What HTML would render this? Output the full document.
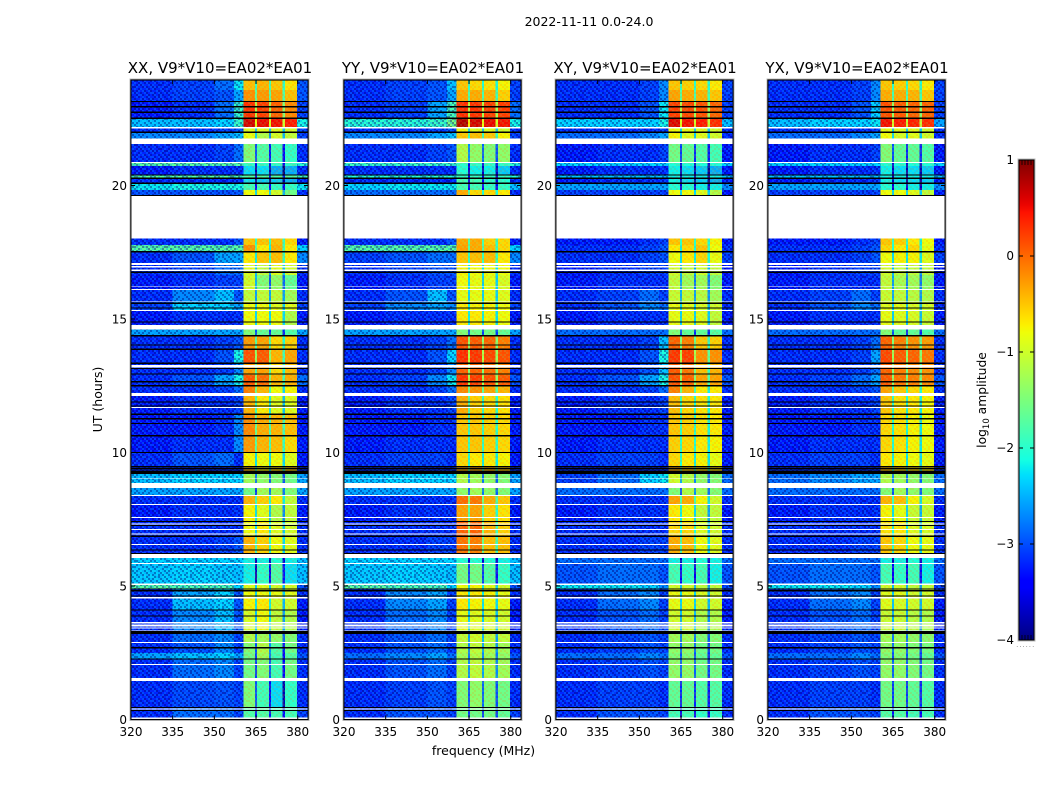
<!DOCTYPE html>
<html lang="en">
<head>
<meta charset="utf-8">
<title>2022-11-11 0.0-24.0 dynamic spectra</title>
<style>
html,body{margin:0;padding:0;background:#fff;}
svg{display:block;}
text{font-family:"DejaVu Sans","Liberation Sans",sans-serif;fill:#000;}
</style>
</head>
<body>
<svg id="figure" xmlns="http://www.w3.org/2000/svg" width="1050" height="800" viewBox="0 0 1050 800">
<text x="589" y="26" font-size="12.5" text-anchor="middle">2022-11-11 0.0-24.0</text>
<text x="483.5" y="755" font-size="12.5" text-anchor="middle">frequency (MHz)</text>
<text x="0" y="0" font-size="12.5" text-anchor="middle" transform="translate(102 399.5) rotate(-90)">UT (hours)</text>
<text x="0" y="0" font-size="12.3" text-anchor="middle" transform="translate(986 400) rotate(-90)">log<tspan font-size="8.5" dy="3">10</tspan><tspan dy="-3"> amplitude</tspan></text>
<g id="panels"></g>
<g id="colorbar"></g>
</svg>
<script>
/* ---------- chart data ---------- */
const polarizations = ["XX", "YY", "XY", "YX"];
const baselineLabel = "V9*V10=EA02*EA01";
const xTickLabels = [320, 335, 350, 365, 380];
const yTickLabels = [0, 5, 10, 15, 20];
const colorbarTicks = [1, 0, -1, -2, -3, -4];

/* frequency column edges (MHz): four off-band columns, four bands split by notches, one out-of-band */
const freqEdges = [320, 335, 350, 357, 360.4, 364.6, 365.4, 369.6, 370.4, 374.6, 375.4, 379.8, 383.7];
/* time row edges (hours, descending) */
const timeEdges = [23.95,23.58,23.13,22.53,22.19,21.97,21.55,20.86,20.73,20.39,20.28,20.06,19.83,18.03,17.78,17.53,17.10,16.65,16.09,15.64,15.30,14.78,14.36,13.84,13.35,12.90,12.49,12.12,11.44,10.62,10.02,9.46,9.19,8.67,8.37,8.07,7.40,6.84,6.20,5.82,5.04,4.89,4.55,4.10,3.35,2.90,2.49,2.27,1.44,0.43,0];

/* log10 amplitude: [320-335, 335-350, 350-357, 357-360, band1, band2, band3, band4, 380-384] */
const amplitudeXX = [
[-3.2,-3.1,-2.85,-2.2,-.45,-.4,-.5,-.65,-3],
[-3.2,-3.1,-3,-2.55,-.2,-.25,-.3,-.45,-3],
[-3.3,-3.2,-2.85,-1.9,.3,.25,.05,-.15,-3.1],
[-2.4,-2.4,-2.3,-1.9,.65,.55,.5,.45,-2.1],
[-3.2,-3.2,-3.1,-3,-.9,-.9,-.9,-1,-3.1],
[-2.7,-2.7,-2.55,-2.4,-.85,-1.2,-1,-1.1,-3.1],
[-3.2,-3.2,-3.1,-2.85,-1.5,-1.8,-1.9,-2,-3.2],
[-1.7,-1.7,-1.7,-1.7,-2,-2,-2,-2,-2],
[-3.3,-3.2,-3.2,-3.2,-2.3,-2.3,-2.55,-2.55,-3.2],
[-1.7,-1.7,-1.7,-1.8,-1.8,-1.8,-1.8,-1.8,-1.8],
[-3.2,-3.2,-3.2,-3.2,-2.3,-2.4,-2.4,-2.55,-3.2],
[-2.2,-2.1,-2.1,-2.1,-1.9,-1.9,-2,-2,-2.2],
[-3,-3,-3,-3,-.8,-.8,-1,-1.6,-3.2],
[-3.2,-3.2,-3.2,-3,-.5,-.5,-.45,-.6,-3.3],
[-1.7,-1.7,-1.7,-1.7,-.2,-.7,-.4,-.7,-2.3],
[-3.2,-3,-2.55,-2.55,-.7,-.5,-.45,-.7,-2.7],
[-3.2,-3.1,-2.85,-2.85,-.9,-1.1,-.9,-1,-3.2],
[-3.3,-3.2,-3.1,-3.1,-1,-1.5,-1.4,-1.7,-3.3],
[-3.2,-2.7,-2.4,-3,-1.1,-1.1,-1.1,-1.3,-3.2],
[-3.1,-2.3,-2.3,-2.55,-.8,-.8,-.9,-.9,-3.1],
[-3.3,-3.2,-3.2,-3.2,-.8,-.8,-.8,-1.2,-3.3],
[-2.55,-2.55,-2.55,-2.55,-1.5,-1.7,-1.7,-1.8,-2.55],
[-3.2,-3.2,-3.1,-3,-.25,-.3,-.6,-.55,-3.2],
[-3.2,-3.2,-3,-2.1,.15,.1,-.4,-.3,-3.2],
[-3.2,-3.2,-3.1,-2.7,-.3,-.3,-.6,-.45,-3.2],
[-3.2,-3,-2.55,-2.1,.1,0,-.4,-.35,-2.85],
[-3.2,-3.2,-3.1,-2.85,-.1,-.4,-.8,-.75,-3.2],
[-3.3,-3.2,-3.2,-3.1,-.4,-.7,-.9,-.9,-3.3],
[-3.3,-3.3,-3.2,-2.7,-.15,-.35,-.4,-.45,-3.3],
[-3.3,-3.2,-3.2,-2.7,-.25,-.4,-.45,-.6,-3.3],
[-3.2,-3,-2.85,-3.2,-.75,-.8,-.8,-.9,-3.3],
[-3.2,-3.2,-3.2,-3.2,-.4,-.75,-.6,-.5,-3.2],
[-2.4,-2.3,-2.3,-2.3,-1.3,-1.4,-1.5,-1.6,-2.55],
[-2.55,-2.55,-2.55,-2.55,-1.6,-1.3,-1.3,-1.5,-2.55],
[-3.2,-3.2,-3.2,-3.2,-.4,-.55,-.7,-1.1,-3.2],
[-3.3,-3.2,-3.2,-3.2,-.75,-.9,-1.2,-1.1,-3.3],
[-3.2,-3.2,-3.2,-3.2,-.8,-.7,-.9,-1,-3.2],
[-3.2,-3.2,-3.1,-3,-.4,-.55,-.8,-.9,-3.2],
[-2.3,-2.3,-2.3,-2.3,-2.2,-2.2,-2.1,-2.2,-2.4],
[-2.35,-2.3,-2.35,-2.4,-2.2,-2,-1.8,-2.3,-2.4],
[-1.7,-1.8,-1.8,-2.3,-.9,-.9,-1,-1,-3],
[-3.2,-2.55,-2.3,-3,-.8,-.8,-.85,-.9,-3.2],
[-3.2,-2.4,-2.3,-3,-.75,-.7,-1,-1,-3.3],
[-3.2,-2.7,-2.4,-3,-.95,-.8,-1.1,-1.2,-3.3],
[-3.2,-2.85,-2.7,-3.1,-1.2,-1.3,-1.4,-1.5,-3.2],
[-3.2,-3,-2.7,-3.1,-1.5,-1.2,-1.8,-1.6,-3.2],
[-2.55,-2.4,-2.3,-2.55,-1.6,-1.3,-1.9,-1.8,-3],
[-3.2,-2.85,-2.7,-3.1,-1.6,-1.5,-1.9,-1.6,-3.2],
[-3.2,-3.05,-3,-3.1,-1.5,-1.9,-2.3,-2,-3.2],
[-3.2,-2.85,-2.85,-3.1,-1.8,-1.8,-1.9,-1.9,-3.1]
];
const amplitudeYY = [
[-3.2,-3.1,-3,-2.4,-.5,-.6,-.65,-.75,-3.1],
[-3.2,-3.1,-3,-2.55,-.35,-.35,-.4,-.55,-3.1],
[-3.2,-3.1,-2.55,-1.8,.35,.3,.25,.25,-2.85],
[-2,-2,-1.9,-1.5,.8,.65,.55,.5,-2.1],
[-3.2,-3.2,-3.1,-3,-.8,-.9,-.9,-1,-3.2],
[-2.7,-2.7,-2.55,-2.4,-.5,-.45,-.5,-.75,-3.1],
[-3.2,-3.2,-3.1,-3,-1.2,-1.4,-1.5,-1.4,-3.2],
[-1.9,-1.9,-1.9,-1.9,-2,-2,-2,-2,-2],
[-3.2,-3.2,-3.2,-3.2,-2.1,-2.2,-2.2,-2.4,-3.2],
[-2,-2,-2,-2,-2,-2,-2,-2,-2],
[-3.2,-3.2,-3.2,-3.2,-1.9,-1.9,-2.1,-2.1,-3.2],
[-2.3,-2.2,-2.2,-2.2,-1.9,-1.9,-2,-2,-2.4],
[-2.85,-2.85,-2.85,-2.85,-.35,-.6,-.6,-.7,-3.2],
[-3.2,-3.2,-3.2,-3,-.35,-.35,-.55,-.6,-3.3],
[-1.7,-1.7,-1.7,-1.7,-.3,-.35,-.45,-.6,-2.3],
[-3.1,-3,-2.85,-2.85,-.5,-.45,-.45,-.7,-2.7],
[-3.2,-3.1,-3,-3,-.75,-.8,-.8,-.8,-3.2],
[-3.3,-3.2,-3.1,-3.1,-.8,-.85,-.85,-.95,-3.3],
[-3.2,-3,-2.4,-3,-.85,-.85,-.85,-.9,-3.2],
[-3.1,-2.7,-2.55,-2.7,-.7,-.75,-.75,-.8,-3.1],
[-3.3,-3.2,-3.2,-3.2,-.7,-.7,-.75,-.8,-3.3],
[-2.55,-2.55,-2.55,-2.55,-1.5,-1.6,-1.6,-1.7,-2.55],
[-3.2,-3.2,-3.1,-2.85,.15,.1,.05,-.1,-3.2],
[-3.2,-3.2,-3,-2.3,.35,.3,.2,.15,-3.2],
[-3.2,-3.2,-3.1,-2.7,.05,.05,0,-.1,-3.2],
[-3.2,-3.1,-2.7,-2.2,.3,.25,.15,.1,-3],
[-3.2,-3.2,-3.1,-2.85,-.15,-.2,-.3,-.4,-3.2],
[-3.3,-3.2,-3.2,-3.1,-.35,-.55,-.6,-.65,-3.3],
[-3.3,-3.3,-3.2,-3.2,-.5,-.5,-.55,-.6,-3.3],
[-3.3,-3.2,-3.2,-3.2,-.5,-.5,-.55,-.6,-3.3],
[-3.2,-3.1,-3.1,-3.2,-.6,-.7,-.7,-.75,-3.3],
[-3.2,-3.2,-3.2,-3.2,-.35,-.3,-.4,-.5,-3.2],
[-2.4,-2.3,-2.3,-2.3,-1.2,-1.3,-1.4,-1.5,-2.55],
[-2.55,-2.55,-2.55,-2.55,-1.4,-1.3,-1.4,-1.5,-2.55],
[-3.2,-3.2,-3.2,-3.2,0,-.05,-.35,-.5,-3.2],
[-3.3,-3.2,-3.2,-3.2,-.3,-.3,-.55,-.65,-3.3],
[-3.2,-3.2,-3.2,-3.2,.05,.05,-.4,-.55,-3.2],
[-3.2,-3.2,-3.1,-3.1,-.05,-.1,-.45,-.45,-3.2],
[-2.3,-2.3,-2.3,-2.3,-2.1,-2.1,-2.1,-2.2,-2.4],
[-2.35,-2.3,-2.35,-2.4,-1.6,-1.6,-1.8,-2,-2.4],
[-1.7,-1.8,-1.8,-2.3,-.8,-.75,-.9,-1,-3],
[-3.2,-2.7,-2.55,-3.1,-.7,-.7,-.75,-.85,-3.2],
[-3.2,-2.7,-2.55,-3.1,-.7,-.75,-.8,-.85,-3.3],
[-3.2,-2.85,-2.7,-3.1,-.85,-.9,-.95,-1,-3.3],
[-3.2,-3,-2.85,-3.1,-1.1,-1,-1.1,-1.1,-3.2],
[-3.2,-3,-2.85,-3.1,-1.2,-1.1,-1.2,-1.3,-3.2],
[-2.85,-2.7,-2.55,-2.85,-1.3,-1.2,-1.3,-1.4,-3],
[-3.2,-3,-2.85,-3.1,-1.2,-1.1,-1.2,-1.3,-3.2],
[-3.2,-3.1,-3,-3.1,-1.5,-1.4,-1.5,-1.6,-3.2],
[-3.2,-3,-3,-3.1,-1.6,-1.6,-1.6,-1.7,-3.1]
];
const amplitudeXY = [
[-3.2,-3.2,-3.1,-2.7,-.5,-.55,-.6,-.7,-3.1],
[-3.2,-3.2,-3.1,-2.7,-.3,-.35,-.4,-.5,-3.1],
[-3.2,-3.2,-3,-2.2,.25,.2,.15,.05,-3.1],
[-2.3,-2.3,-2.3,-2.1,.6,.5,.45,.35,-2.4],
[-3.2,-3.2,-3.2,-3.1,-.8,-.85,-.9,-1,-3.2],
[-2.85,-2.85,-2.7,-2.55,-.75,-.9,-.9,-1,-3.2],
[-3.3,-3.2,-3.2,-3.1,-1.6,-1.7,-1.8,-1.9,-3.3],
[-2.3,-2.3,-2.3,-2.3,-2.1,-2.1,-2.1,-2.1,-2.3],
[-3.3,-3.2,-3.2,-3.2,-2.2,-2.3,-2.4,-2.55,-3.3],
[-2.4,-2.4,-2.4,-2.4,-2.2,-2.2,-2.2,-2.2,-2.4],
[-3.3,-3.2,-3.2,-3.2,-2.2,-2.3,-2.4,-2.55,-3.3],
[-2.55,-2.55,-2.55,-2.55,-2.1,-2.1,-2.2,-2.2,-2.7],
[-3.1,-3.1,-3.1,-3.1,-.8,-.8,-.9,-1.2,-3.3],
[-3.3,-3.3,-3.2,-3.1,-.5,-.5,-.6,-.75,-3.3],
[-3.2,-3.2,-3.1,-3,-.7,-.6,-.5,-.8,-3.2],
[-3.2,-3.2,-3.1,-3,-.8,-.7,-.6,-.85,-3.1],
[-3.3,-3.2,-3.1,-3.1,-1,-1.1,-1,-1.1,-3.3],
[-3.3,-3.2,-3.2,-3.2,-1.1,-1.3,-1.3,-1.5,-3.3],
[-3.2,-3.1,-2.85,-3.1,-1.05,-1.1,-1.15,-1.3,-3.2],
[-3.2,-3,-2.7,-2.85,-.85,-.9,-.95,-1,-3.2],
[-3.3,-3.2,-3.2,-3.2,-.85,-.85,-.9,-1.1,-3.3],
[-2.85,-2.85,-2.85,-2.85,-1.5,-1.7,-1.7,-1.8,-2.85],
[-3.2,-3.2,-3.1,-2.4,.05,-.1,-.5,-.55,-3.2],
[-3.2,-3.2,-3,-2.1,.3,.25,-.2,-.2,-3.2],
[-3.2,-3.2,-3,-2.4,.1,-.05,-.45,-.4,-3.2],
[-3.2,-3,-2.55,-2.1,.15,.05,-.3,-.3,-3],
[-3.2,-3.2,-3.1,-2.85,-.1,-.4,-.7,-.7,-3.2],
[-3.3,-3.2,-3.2,-3.1,-.45,-.6,-.65,-.7,-3.3],
[-3.3,-3.3,-3.2,-3.2,-.5,-.55,-.65,-.7,-3.3],
[-3.3,-3.2,-3.2,-3.2,-.55,-.6,-.7,-.75,-3.3],
[-3.2,-3.1,-3.1,-3.2,-.6,-.7,-.75,-.85,-3.3],
[-3.2,-3.2,-3.2,-3.2,-.35,-.5,-.6,-.65,-3.2],
[-3.1,-2.85,-2.3,-2.2,-1,-1.2,-1.4,-1.5,-2.85],
[-2.85,-2.85,-2.85,-2.85,-1.5,-1.2,-1.3,-1.5,-2.85],
[-3.2,-3.2,-3.2,-3.2,-.3,-.35,-.75,-1,-3.2],
[-3.3,-3.2,-3.2,-3.2,-.7,-.8,-1.1,-1.1,-3.3],
[-3.2,-3.2,-3.2,-3.2,-.6,-.6,-.9,-1,-3.2],
[-3.2,-3.2,-3.1,-3.1,-.35,-.45,-.8,-.9,-3.2],
[-2.85,-2.85,-2.85,-2.85,-2.2,-2.2,-2.1,-2.2,-2.85],
[-3,-2.85,-2.85,-3,-1.9,-2,-1.9,-2.2,-3],
[-2.2,-2.2,-2.3,-2.7,-1,-1,-1.1,-1.1,-3.1],
[-3.2,-2.85,-2.7,-3.1,-.85,-.85,-.95,-1,-3.2],
[-3.2,-2.85,-2.7,-3.1,-.85,-.85,-1,-1,-3.3],
[-3.2,-3,-2.85,-3.1,-1,-1,-1.2,-1.2,-3.3],
[-3.2,-3.1,-3,-3.1,-1.3,-1.3,-1.5,-1.5,-3.2],
[-3.2,-3.1,-3,-3.1,-1.4,-1.4,-1.6,-1.6,-3.2],
[-2.85,-2.85,-2.7,-2.85,-1.5,-1.5,-1.7,-1.7,-3],
[-3.2,-3.1,-3,-3.1,-1.4,-1.4,-1.6,-1.6,-3.2],
[-3.2,-3.1,-3.1,-3.2,-1.7,-1.7,-1.8,-1.8,-3.2],
[-3.2,-3,-3,-3.1,-1.9,-1.9,-2,-2,-3.2]
];
const amplitudeYX = [
[-3.2,-3.2,-3.1,-2.7,-.5,-.55,-.6,-.7,-3.1],
[-3.2,-3.2,-3.1,-2.7,-.35,-.35,-.4,-.5,-3.1],
[-3.2,-3.2,-3,-2.3,.15,.1,.05,.05,-3.1],
[-2.4,-2.3,-2.3,-2.2,.5,.45,.4,.35,-2.55],
[-3.2,-3.2,-3.2,-3.1,-.85,-.9,-.9,-1,-3.2],
[-2.85,-2.85,-2.7,-2.55,-.8,-.95,-.9,-1,-3.2],
[-3.3,-3.2,-3.2,-3.1,-1.5,-1.7,-1.7,-1.8,-3.3],
[-2.3,-2.3,-2.3,-2.3,-2.1,-2.1,-2.1,-2.1,-2.3],
[-3.3,-3.2,-3.2,-3.2,-2.2,-2.3,-2.3,-2.4,-3.3],
[-2.4,-2.4,-2.4,-2.4,-2.2,-2.2,-2.2,-2.2,-2.4],
[-3.3,-3.2,-3.2,-3.2,-2.2,-2.3,-2.3,-2.4,-3.3],
[-2.55,-2.55,-2.55,-2.55,-2.1,-2.1,-2.2,-2.2,-2.7],
[-3.1,-3.1,-3.1,-3.1,-.8,-.8,-.9,-1.1,-3.3],
[-3.3,-3.3,-3.2,-3.1,-.5,-.55,-.7,-.8,-3.3],
[-3.2,-3.2,-3.1,-3,-.6,-.7,-.6,-.85,-3.2],
[-3.2,-3.2,-3.1,-3,-.8,-.75,-.75,-.9,-3.1],
[-3.3,-3.2,-3.1,-3.1,-1,-1.1,-1.1,-1.1,-3.3],
[-3.3,-3.2,-3.2,-3.2,-1.1,-1.25,-1.3,-1.4,-3.3],
[-3.2,-3.1,-2.85,-3.1,-1.05,-1.1,-1.15,-1.2,-3.2],
[-3.2,-3,-2.7,-2.85,-.9,-.9,-.95,-1,-3.2],
[-3.3,-3.2,-3.2,-3.2,-.85,-.9,-.95,-1.05,-3.3],
[-2.85,-2.85,-2.85,-2.85,-1.5,-1.7,-1.7,-1.8,-2.85],
[-3.2,-3.2,-3.1,-2.85,.05,-.1,-.2,-.25,-3.2],
[-3.2,-3.2,-3.1,-2.55,.2,.1,.05,-.05,-3.2],
[-3.2,-3.2,-3.1,-2.85,.05,-.1,-.15,-.2,-3.2],
[-3.2,-3.1,-2.85,-2.55,.1,-.05,-.1,-.15,-3],
[-3.2,-3.2,-3.1,-3,-.3,-.5,-.6,-.7,-3.2],
[-3.3,-3.2,-3.2,-3.1,-.5,-.65,-.7,-.75,-3.3],
[-3.3,-3.3,-3.2,-3.2,-.6,-.65,-.75,-.8,-3.3],
[-3.3,-3.2,-3.2,-3.2,-.6,-.65,-.75,-.8,-3.3],
[-3.2,-3.1,-3.1,-3.2,-.7,-.75,-.8,-.85,-3.3],
[-3.2,-3.2,-3.2,-3.2,-.45,-.55,-.65,-.7,-3.2],
[-2.85,-2.7,-2.55,-2.55,-1.2,-1.3,-1.4,-1.5,-2.85],
[-2.85,-2.85,-2.85,-2.85,-1.5,-1.3,-1.4,-1.5,-2.85],
[-3.2,-3.2,-3.2,-3.2,-.4,-.45,-.75,-.95,-3.2],
[-3.3,-3.2,-3.2,-3.2,-.75,-.85,-1.05,-1.05,-3.3],
[-3.2,-3.2,-3.2,-3.2,-.65,-.7,-.9,-.95,-3.2],
[-3.2,-3.2,-3.1,-3.1,-.5,-.6,-.8,-.85,-3.2],
[-2.85,-2.85,-2.85,-2.85,-2.2,-2.2,-2.1,-2.2,-2.85],
[-3,-2.85,-2.85,-3,-1.9,-2,-1.9,-2.2,-3],
[-2.2,-2.2,-2.3,-2.7,-1,-1,-1.1,-1.1,-3.1],
[-3.2,-2.85,-2.7,-3.1,-.9,-.9,-1,-1,-3.2],
[-3.2,-2.85,-2.7,-3.1,-.9,-.95,-1,-1,-3.3],
[-3.2,-3,-2.85,-3.1,-1.05,-1.05,-1.15,-1.2,-3.3],
[-3.2,-3.1,-3,-3.1,-1.3,-1.3,-1.4,-1.45,-3.2],
[-3.2,-3.1,-3,-3.1,-1.4,-1.4,-1.5,-1.55,-3.2],
[-2.85,-2.85,-2.7,-2.85,-1.5,-1.5,-1.6,-1.7,-3],
[-3.2,-3.1,-3,-3.1,-1.4,-1.4,-1.5,-1.6,-3.2],
[-3.2,-3.1,-3.1,-3.2,-1.6,-1.6,-1.7,-1.8,-3.2],
[-3.2,-3,-3,-3.1,-1.8,-1.8,-1.9,-1.9,-3.2]
];
const panelAmplitudes = [amplitudeXX, amplitudeYY, amplitudeXY, amplitudeYX];

/* integrations with zero amplitude, drawn black (hours) */
const zeroHours = [23.14,22.95,22.74,22.52,21.99,20.39,20.27,20.08,19.63,17.52,16.75,15.59,15.41,14.89,14.37,14.03,13.87,13.34,13.15,12.94,12.65,12.5,11.89,11.74,11.43,11.26,11.09,10.63,10,9.47,9.41,9.34,9.28,9.22,7.41,7.27,6.86,6.35,6.22,4.89,4.82,4.63,4.1,3.88,3.29,3.23,2.69,2.27,.45,.34];
/* flagged time ranges, drawn white (start hour, end hour) */
const flaggedStart = [22.19,21.76,20.88,19.61,17.1,16.99,16.86,16.22,16.12,15.66,15.33,14.78,14.61,13.28,12.23,11.7,9.03,8.85,8.41,8.08,7.58,7.34,7.13,6.96,6.57,6.2,5.86,5.1,4.58,3.65,3.59,3.53,3.45,3.36,2.9,2.08,1.55,.41,.07];
const flaggedEnd = [22.13,21.55,20.84,18.02,17.02,16.92,16.8,16.19,16.09,15.63,15.29,14.63,14.59,13.18,12.12,11.67,9,8.67,8.37,8.04,7.55,7.3,7.1,6.92,6.54,6.04,5.82,5.04,4.54,3.62,3.55,3.49,3.41,3.33,2.86,2.04,1.45,.37,.02];

/* repeating speckle tile: -1 darker, 0 none, +1 lighter */
const speckleTile = [
[1,0,-1,0,1,-1,0,1,0,-1,1,0,0,-1,1,-1],
[-1,1,0,-1,0,0,1,-1,1,0,-1,1,-1,0,0,1],
[0,-1,1,1,-1,1,0,0,-1,1,0,-1,1,1,-1,0],
[1,0,-1,0,0,-1,1,-1,0,0,1,0,-1,0,1,-1],
[-1,1,0,-1,1,0,-1,1,1,-1,0,1,0,-1,0,1],
[0,-1,1,0,-1,1,0,0,-1,0,1,-1,1,0,-1,0],
[1,0,0,-1,1,-1,1,-1,0,1,-1,0,0,1,0,-1],
[-1,1,-1,1,0,0,-1,1,0,-1,1,1,-1,0,1,0],
[0,0,1,-1,-1,1,0,-1,1,0,0,-1,1,-1,0,1],
[1,-1,0,1,0,-1,1,0,-1,1,-1,0,0,1,-1,0],
[-1,0,1,0,-1,1,-1,1,0,0,1,-1,1,0,0,-1],
[0,1,-1,-1,1,0,0,-1,1,-1,0,1,-1,1,-1,1],
[1,-1,0,1,0,-1,1,0,0,1,-1,0,1,-1,0,0],
[0,1,-1,0,-1,1,0,1,-1,0,1,-1,0,0,1,-1],
[-1,0,1,-1,1,0,-1,0,1,-1,0,1,1,-1,0,1],
[1,-1,0,0,-1,1,1,-1,0,1,-1,0,-1,1,0,-1]
];

/* ---------- axes and colour ---------- */
const svgNS = "http://www.w3.org/2000/svg";
const xMin = 320, xMax = 383.7, yMin = 0, yMax = 23.95;
const plotTop = 80, plotBottom = 719.5, plotWidth = 177;
const plotLefts = [131, 344, 556, 768];
const notchDrop = 1.5;

function xScale(mhz, left) { return left + (mhz - xMin) / (xMax - xMin) * plotWidth; }
function yScale(hour) { return plotBottom - (hour - yMin) / (yMax - yMin) * (plotBottom - plotTop); }
function colorbarY(v) { return 160 + (1 - v) / 5 * 480; }

function interp(points, f) {
  for (let i = 1; i < points.length; i++) {
    if (f <= points[i][0]) {
      const a = points[i - 1], b = points[i];
      return a[1] + (b[1] - a[1]) * (f - a[0]) / (b[0] - a[0]);
    }
  }
  return points[points.length - 1][1];
}
const jetRed = [[0,0],[.35,0],[.66,1],[.89,1],[1,.5]];
const jetGreen = [[0,0],[.125,0],[.375,1],[.64,1],[.91,0],[1,0]];
const jetBlue = [[0,.5],[.11,1],[.34,1],[.65,0],[1,0]];
function jet(v) {
  const f = Math.max(0, Math.min(1, (v + 4) / 5));
  const c = p => Math.round(255 * interp(p, f));
  return "rgb(" + c(jetRed) + "," + c(jetGreen) + "," + c(jetBlue) + ")";
}
function make(tag, attrs, parent) {
  const el = document.createElementNS(svgNS, tag);
  for (const k in attrs) el.setAttribute(k, attrs[k]);
  parent.appendChild(el);
  return el;
}

/* column index in freqEdges -> value column, or notch derived from the band to its left */
const columnSource = [0, 1, 2, 3, 4, -4, 5, -5, 6, -6, 7, 8];

const panelsGroup = document.getElementById("panels");
const defs = make("defs", {}, panelsGroup);
function speckleDots(pattern, lightFill, darkFill) {
  speckleTile.forEach((row, r) => row.forEach((s, c) => {
    if (s === 0) return;
    const dot = make("rect", { x: c * 2, y: r * 2, width: 2, height: 2, fill: s > 0 ? lightFill : darkFill }, pattern);
    
    
  }));
}
const offBandPattern = make("pattern", { id: "speckle", width: 32, height: 32, patternUnits: "userSpaceOnUse" }, defs);
speckleDots(offBandPattern, "rgba(0,140,255,.34)", "rgba(0,0,120,.42)");
const bandPattern = make("pattern", { id: "band-speckle", width: 32, height: 32, patternUnits: "userSpaceOnUse" }, defs);
speckleDots(bandPattern, "rgba(255,120,0,.16)", "rgba(120,255,120,.16)");

polarizations.forEach((pol, p) => {
  const left = plotLefts[p];
  const right = left + plotWidth;
  const values = panelAmplitudes[p];
  const g = make("g", {}, panelsGroup);
  
  
  const cells = make("g", { "shape-rendering": "crispEdges" }, g);
  
  

  values.forEach((row, r) => {
    const y0 = yScale(timeEdges[r]);
    const y1 = yScale(timeEdges[r + 1]);
    columnSource.forEach((src, c) => {
      const v = src >= 0 ? row[src] : row[-src] - notchDrop;
      const x0 = xScale(freqEdges[c], left);
      const x1 = xScale(freqEdges[c + 1], left);
      const cell = make("rect", { x: x0.toFixed(2), y: y0.toFixed(2),
        width: (x1 - x0 + .4).toFixed(2), height: (y1 - y0 + .4).toFixed(2), fill: jet(v) }, cells);
      
      
    });
  });

  [[xMin, freqEdges[4], "speckle"], [freqEdges[4], freqEdges[11], "band-speckle"], [freqEdges[11], xMax, "speckle"]].forEach(range => {
    const x0 = xScale(range[0], left), x1 = xScale(range[1], left);
    const overlay = make("rect", { x: x0, y: plotTop, width: x1 - x0, height: plotBottom - plotTop,
      fill: "url(#" + range[2] + ")" }, cells);
    
    
  });

  zeroHours.forEach(h => {
    const line = make("rect", { x: left, y: (yScale(h) - .6).toFixed(2), width: plotWidth, height: 1.2, fill: "#000" }, cells);
    
    
  });
  flaggedStart.forEach((h, i) => {
    const y0 = yScale(h), y1 = yScale(flaggedEnd[i]);
    const band = make("rect", { x: left, y: y0.toFixed(2), width: plotWidth, height: (y1 - y0).toFixed(2), fill: "#fff" }, cells);
    
    
  });

  const halo = make("rect", { x: left - 1, y: plotTop - 1, width: plotWidth + 2, height: plotBottom - plotTop + 2,
    fill: "none", stroke: "#bbb", "stroke-width": 1 }, g);
  
  
  const frame = make("rect", { x: left - .1, y: plotTop, width: plotWidth + .2, height: plotBottom - plotTop,
    fill: "none", stroke: "#000", "stroke-width": 1.1 }, g);
  
  

  xTickLabels.forEach(t => {
    const x = xScale(t, left);
    const tick = make("path", { d: "M" + x + " " + plotBottom + "v-4M" + x + " " + plotTop + "v4",
      stroke: "#000", "stroke-width": 1, fill: "none" }, g);
    
    
    const label = make("text", { x: x, y: 736, "font-size": 12, "text-anchor": "middle" }, g);
    label.textContent = t;
    
    
  });
  yTickLabels.forEach(t => {
    const y = yScale(t);
    const tick = make("path", { d: "M" + left + " " + y + "h4M" + right + " " + y + "h-4",
      stroke: "#000", "stroke-width": 1, fill: "none" }, g);
    
    
    const label = make("text", { x: left - 4, y: y + 4.5, "font-size": 12, "text-anchor": "end" }, g);
    label.textContent = t;
    
    
  });
  const title = make("text", { x: left + plotWidth / 2 + .5, y: 73, "font-size": 15, "text-anchor": "middle" }, g);
  title.textContent = pol + ", " + baselineLabel;
  
  
});

/* ---------- colour bar ---------- */
const cb = document.getElementById("colorbar");
const cbLeft = 1019, cbWidth = 15;
const cbDefs = make("defs", {}, cb);
const gradient = make("linearGradient", { id: "jet-gradient", x1: 0, y1: 0, x2: 0, y2: 1 }, cbDefs);
for (let i = 0; i <= 64; i++) {
  make("stop", { offset: i / 64, "stop-color": jet(1 - 5 * i / 64) }, gradient);
}
const cbHalo = make("rect", { x: cbLeft - 1, y: 159, width: cbWidth + 2, height: 482, fill: "none", stroke: "#bbb" }, cb);


const cbRamp = make("rect", { x: cbLeft, y: 160, width: cbWidth, height: 480, fill: "url(#jet-gradient)", stroke: "#000", "stroke-width": 1 }, cb);


colorbarTicks.forEach(t => {
  const y = colorbarY(t);
  const tick = make("path", { d: "M" + cbLeft + " " + y + "h4M" + (cbLeft + cbWidth) + " " + y + "h-4", stroke: "#000", fill: "none" }, cb);
  
  
  const label = make("text", { x: cbLeft - 5, y: y + 4, "font-size": 12, "text-anchor": "end" }, cb);
  label.textContent = t < 0 ? "\u2212" + Math.abs(t) : String(t);
  
  
});
for (let i = 0; i <= 5; i++) {
  const x = cbLeft + i * 3;
  const edge = make("path", { d: "M" + x + " 160v5M" + x + " 640v-5", stroke: "#000", "stroke-width": .8, fill: "none" }, cb);
  
  
}
const dots = make("text", { x: cbLeft + cbWidth / 2 - .5, y: 647, "font-size": 5, "letter-spacing": 1.6, "text-anchor": "middle", fill: "#888" }, cb);
dots.textContent = "......";


</script>
</body>
</html>
